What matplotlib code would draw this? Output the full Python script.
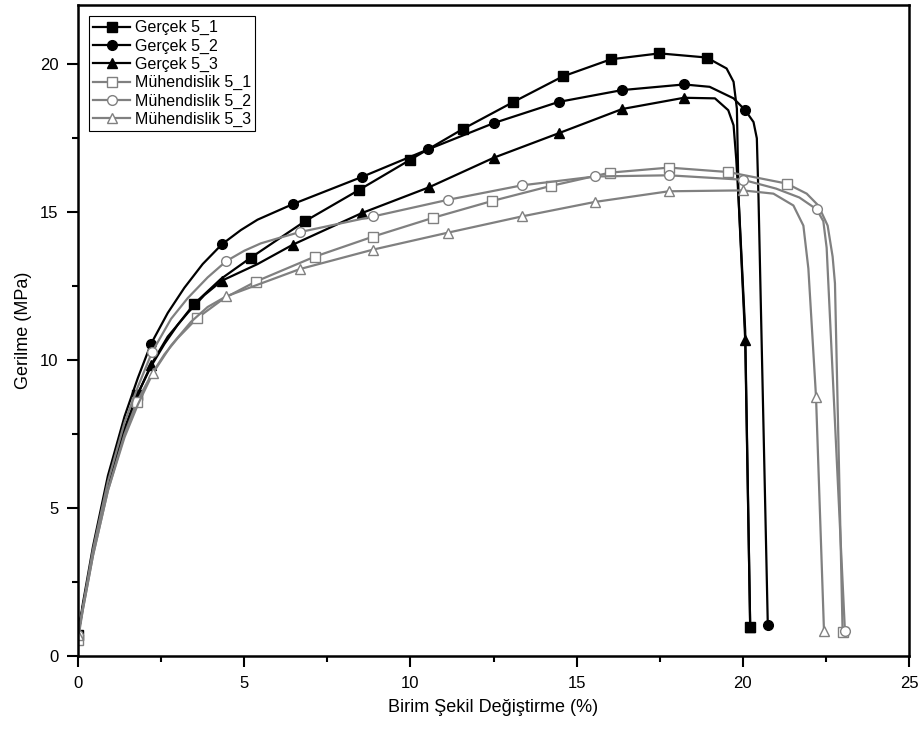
import matplotlib
matplotlib.use("Agg")
import matplotlib.pyplot as plt
from matplotlib.ticker import MultipleLocator

plt.rcParams['font.family'] = ['Liberation Sans', 'DejaVu Sans']

# --- data (strain %, stress MPa) ---
# Gerçek 5_1
g1_x = [0, 0.15, 0.45, 0.9, 1.4, 1.77, 2.2, 2.6, 3.0, 3.49, 4.3, 5.19, 6.83, 8.46, 10.0, 11.57,
        13.10, 14.58, 16.03, 17.49, 18.91, 19.51, 19.72, 19.82, 19.87, 20.07, 20.22]
g1_y = [0.7, 1.7, 3.5, 5.8, 7.7, 8.81, 9.8, 10.55, 11.2, 11.9, 12.75, 13.46, 14.70, 15.76, 16.78,
        17.81, 18.73, 19.59, 20.17, 20.37, 20.23, 19.86, 19.41, 18.5, 15.5, 11.0, 0.99]
g1_mk = [0, 5, 9, 11, 12, 13, 14, 15, 16, 17, 18, 19, 20, 26]

# Gerçek 5_2
g2_x = [0, 0.15, 0.45, 0.9, 1.4, 1.8, 2.19, 2.7, 3.2, 3.75, 4.33, 4.9, 5.4, 6.47, 8.53, 10.54,
        12.52, 14.46, 16.37, 18.23, 19.0, 19.72, 20.07, 20.32, 20.42, 20.47, 20.75]
g2_y = [0.7, 1.8, 3.7, 6.1, 8.1, 9.4, 10.54, 11.6, 12.45, 13.25, 13.92, 14.4, 14.75, 15.28, 16.19,
        17.13, 18.02, 18.73, 19.13, 19.32, 19.24, 18.85, 18.45, 18.05, 17.5, 15.5, 1.05]
g2_mk = [0, 6, 10, 13, 14, 15, 16, 17, 18, 19, 22, 26]

# Gerçek 5_3
g3_x = [0, 0.15, 0.45, 0.9, 1.4, 1.8, 2.2, 2.7, 3.3, 3.8, 4.33, 5.4, 6.47, 8.53, 10.57, 12.52,
        14.48, 16.37, 18.23, 19.16, 19.56, 19.72, 19.8, 19.87, 20.07, 20.22]
g3_y = [0.7, 1.7, 3.5, 5.7, 7.6, 8.85, 9.85, 10.8, 11.6, 12.2, 12.69, 13.25, 13.91, 14.97, 15.85,
        16.85, 17.68, 18.49, 18.87, 18.85, 18.45, 17.94, 16.8, 15.46, 10.69, 0.99]
g3_mk = [0, 6, 10, 12, 13, 14, 15, 16, 17, 18, 24, 25]

# Mühendislik 5_1
m1_x = [0, 0.15, 0.45, 0.9, 1.4, 1.77, 2.2, 2.6, 3.0, 3.58, 4.4, 5.35, 7.12, 8.88, 10.67, 12.45,
        14.22, 16.0, 17.78, 19.56, 21.32, 21.92, 22.27, 22.55, 22.7, 22.77, 23.0]
m1_y = [0.55, 1.6, 3.4, 5.6, 7.5, 8.59, 9.5, 10.2, 10.75, 11.42, 12.1, 12.66, 13.5, 14.18, 14.81,
        15.38, 15.89, 16.34, 16.51, 16.36, 15.97, 15.63, 15.23, 14.55, 13.5, 12.6, 0.82]
m1_mk = [0, 5, 9, 11, 12, 13, 14, 15, 16, 17, 18, 19, 20, 26]

# Mühendislik 5_2
m2_x = [0, 0.15, 0.45, 0.9, 1.4, 1.8, 2.23, 2.8, 3.3, 3.9, 4.46, 5.0, 5.5, 6.1, 6.67, 8.88,
        11.12, 13.35, 15.55, 17.77, 20.0, 21.0, 21.7, 22.22, 22.42, 22.52, 23.07]
m2_y = [0.7, 1.7, 3.6, 5.9, 7.9, 9.1, 10.28, 11.4, 12.1, 12.8, 13.35, 13.7, 13.95, 14.15, 14.33,
        14.86, 15.42, 15.91, 16.21, 16.25, 16.10, 15.8, 15.5, 15.1, 14.7, 13.8, 0.85]
m2_mk = [0, 6, 10, 14, 15, 16, 17, 18, 19, 20, 23, 26]

# Mühendislik 5_3
m3_x = [0, 0.15, 0.45, 0.9, 1.4, 1.8, 2.25, 2.8, 3.4, 3.9, 4.46, 6.67, 8.88, 11.12, 13.35,
        15.55, 17.77, 20.0, 20.92, 21.52, 21.82, 21.97, 22.2, 22.44]
m3_y = [0.7, 1.6, 3.4, 5.6, 7.4, 8.5, 9.56, 10.5, 11.3, 11.8, 12.16, 13.08, 13.74, 14.31, 14.86,
        15.35, 15.71, 15.74, 15.63, 15.23, 14.55, 13.1, 8.77, 0.85]
m3_mk = [0, 6, 10, 11, 12, 13, 14, 15, 16, 17, 22, 23]

series = [
    ("Gerçek 5_1", g1_x, g1_y, g1_mk, 's', 'black', 'black'),
    ("Gerçek 5_2", g2_x, g2_y, g2_mk, 'o', 'black', 'black'),
    ("Gerçek 5_3", g3_x, g3_y, g3_mk, '^', 'black', 'black'),
    ("Mühendislik 5_1", m1_x, m1_y, m1_mk, 's', '#808080', 'white'),
    ("Mühendislik 5_2", m2_x, m2_y, m2_mk, 'o', '#808080', 'white'),
    ("Mühendislik 5_3", m3_x, m3_y, m3_mk, '^', '#808080', 'white'),
]

fig = plt.figure(figsize=(9.22, 7.34), dpi=100)
ax = fig.add_axes([0.0846, 0.106, 0.9014, 0.887])

for label, x, y, mk, marker, col, face in series:
    ax.plot(x, y, color=col, lw=1.6, marker=marker, markevery=mk,
            markersize=7.5 if marker == '^' else 7, markerfacecolor=face,
            markeredgecolor=col, markeredgewidth=1.0, label=label)

ax.set_xlim(0, 25)
ax.set_ylim(0, 22)
ax.xaxis.set_major_locator(MultipleLocator(5))
ax.xaxis.set_minor_locator(MultipleLocator(2.5))
ax.yaxis.set_major_locator(MultipleLocator(5))
ax.yaxis.set_minor_locator(MultipleLocator(2.5))
ax.tick_params(which='major', direction='out', length=8, width=1.5, labelsize=12, pad=6)
ax.tick_params(which='minor', direction='out', length=4.5, width=1.5)
for sp in ax.spines.values():
    sp.set_linewidth(1.8)

ax.set_xlabel("Birim Şekil Değiştirme (%)", fontsize=13, labelpad=6)
ax.set_ylabel("Gerilme (MPa)", fontsize=13, labelpad=6)

leg = ax.legend(loc='upper left', fontsize=11.5, frameon=True, fancybox=False,
                edgecolor='black', framealpha=1, handlelength=2.3, handletextpad=0.3,
                labelspacing=0.2, borderpad=0.25, borderaxespad=0.7)
leg.get_frame().set_linewidth(0.8)

fig.savefig("out.png", dpi=100)
